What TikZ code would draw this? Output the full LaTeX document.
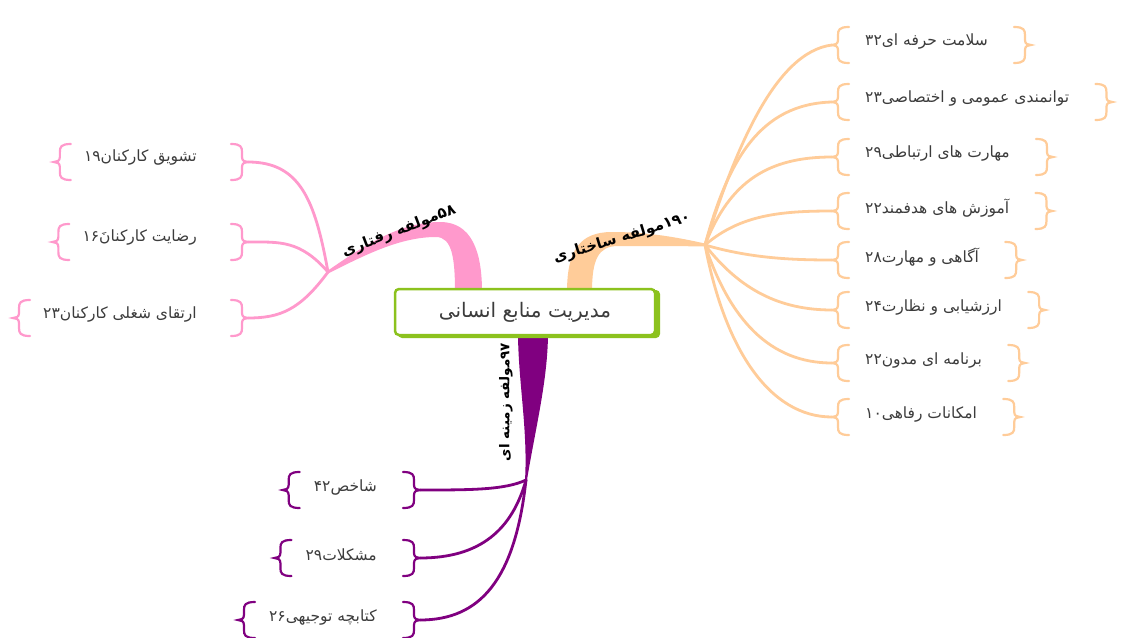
\documentclass[tikz,border=0pt]{standalone}
\usepackage{fontspec}
\usetikzlibrary{calc}
\newfontfamily\fa[Script=Arabic]{DejaVu Sans}
\TeXXeTstate=1
\definecolor{pinkc}{RGB}{255,153,204}
\definecolor{orangec}{RGB}{255,204,153}
\definecolor{purplec}{RGB}{128,0,128}
\definecolor{greenc}{RGB}{140,194,30}
\definecolor{textc}{RGB}{60,60,60}
\newcommand{\ltr}[1]{\beginL #1\endL}
\tikzset{
  leaf/.style={font=\fa\fontsize{15.5}{17}\selectfont, text=textc, inner sep=0pt},
  branchlabel/.style={font=\fa\fontsize{15}{17}\selectfont\bfseries, text=black, inner sep=0pt},
  central/.style={draw=greenc, line width=2.5pt, rounded corners=4pt, fill=white,
    minimum width=260pt, minimum height=46pt, font=\fa\fontsize{20}{22}\selectfont, text=textc},
  twig/.style={line width=2.8pt, line cap=round},
  brace/.style={line width=2.2pt, line cap=round},
  lbr/.pic={\draw[brace] (17,-18) .. controls (7,-18) and (6,-15) .. (6,-10) -- (6,-5) .. controls (6,-1) and (3,0) .. (0,0) .. controls (3,0) and (6,1) .. (6,5) -- (6,10) .. controls (6,15) and (7,18) .. (17,18);},
  rbr/.pic={\draw[brace] (-17,-18) .. controls (-7,-18) and (-6,-15) .. (-6,-10) -- (-6,-5) .. controls (-6,-1) and (-3,0) .. (0,0) .. controls (-3,0) and (-6,1) .. (-6,5) -- (-6,10) .. controls (-6,15) and (-7,18) .. (-17,18);}
}
% orange leaf: name, y, text
\newcommand{\oleaf}[3]{%
  \coordinate (#1l) at (832,#2);
  \node[leaf, anchor=west] (#1) at (865,#2-3) {#3};
  \coordinate (#1r) at ($(#1.east)+(43,3)$);
  \pic[color=orangec] at (#1l) {lbr};
  \pic[color=orangec] at (#1r) {rbr};
}
% pink leaf
\newcommand{\pleaf}[3]{%
  \coordinate (#1r) at (248,#2);
  \node[leaf, anchor=east] (#1) at (197,#2-4) {#3};
  \coordinate (#1l) at ($(#1.west)+(-30,4)$);
  \pic[color=pinkc] at (#1l) {lbr};
  \pic[color=pinkc] at (#1r) {rbr};
}
% purple leaf
\newcommand{\vleaf}[3]{%
  \coordinate (#1r) at (420,#2);
  \node[leaf, anchor=east] (#1) at (377,#2-3) {#3};
  \coordinate (#1l) at ($(#1.west)+(-31,3)$);
  \pic[color=purplec] at (#1l) {lbr};
  \pic[color=purplec] at (#1r) {rbr};
}
\begin{document}
\begin{tikzpicture}[x=1pt,y=-1pt]
\useasboundingbox (0,0) rectangle (1126,637);
\fill[white] (0,0) rectangle (1126,637);

% hubs
\coordinate (phub) at (328,272);
\coordinate (ohub) at (705,245);
\coordinate (vhub) at (526,480);

% trunks
\fill[pinkc] (455,292) .. controls (455,258) and (452,237) .. (436,237) .. controls (400,237) and (365,255) .. (328,273.5) -- (328,270.5) .. controls (365,245) and (400,222) .. (440,222) .. controls (472,222) and (482,252) .. (482,292) -- cycle;
\fill[orangec] (567,292) .. controls (567,250) and (580,232) .. (612,232) .. controls (650,232) and (680,238) .. (705,243.5) -- (705,246.5) .. controls (680,246) and (650,246) .. (618,246) .. controls (598,246) and (592,260) .. (592,292) -- cycle;
\fill[purplec] (518,332) .. controls (518,380) and (528,430) .. (525,480) -- (527,480) .. controls (535,430) and (548,380) .. (548,332) -- cycle;

% central node
\fill[greenc, rounded corners=4pt] (398,290) rectangle (660,338);
\node[central] (root) at (525,312) {\beginR مدیریت منابع انسانی\endR};

% branch labels
\node[branchlabel, rotate=21] (plab) at (399,231) {\beginR\ltr{۵۸}مولفه رفتاری\endR};
\node[branchlabel, rotate=17] (olab) at (622,238) {\beginR\ltr{۱۹۰}مولفه ساختاری\endR};
\node[branchlabel, rotate=90, font=\fa\fontsize{13.5}{15}\selectfont\bfseries] (vlab) at (506,402) {\beginR\ltr{۹۷}مولفه زمینه ای\endR};

% orange leaves
\oleaf{o1}{45}{\beginR سلامت حرفه ای\ltr{۳۲}\endR}
\oleaf{o2}{102}{\beginR توانمندی عمومی و اختصاصی\ltr{۲۳}\endR}
\oleaf{o3}{157}{\beginR مهارت های ارتباطی\ltr{۲۹}\endR}
\oleaf{o4}{211}{\beginR آموزش های هدفمند\ltr{۲۲}\endR}
\oleaf{o5}{260}{\beginR آگاهی و مهارت\ltr{۲۸}\endR}
\oleaf{o6}{310}{\beginR ارزشیابی و نظارت\ltr{۲۴}\endR}
\oleaf{o7}{363}{\beginR برنامه ای مدون\ltr{۲۲}\endR}
\oleaf{o8}{417}{\beginR امکانات رفاهی\ltr{۱۰}\endR}

\begin{scope}[twig, orangec]
\draw (ohub) .. controls (735,150) and (775,52) .. (o1l);
\draw (ohub) .. controls (728,160) and (760,104) .. (o2l);
\draw (ohub) .. controls (730,180) and (770,157) .. (o3l);
\draw (ohub) .. controls (740,215) and (780,211) .. (o4l);
\draw (ohub) .. controls (750,258) and (790,260) .. (o5l);
\draw (ohub) .. controls (740,290) and (780,310) .. (o6l);
\draw (ohub) .. controls (730,320) and (770,363) .. (o7l);
\draw (ohub) .. controls (725,350) and (770,417) .. (o8l);
\end{scope}

% pink leaves
\pleaf{p1}{162}{\beginR تشویق کارکنان\ltr{۱۹}\endR}
\pleaf{p2}{242}{\beginR رضایت کارکنانَ\ltr{۱۶}\endR}
\pleaf{p3}{318}{\beginR ارتقای شغلی کارکنان\ltr{۲۳}\endR}

\begin{scope}[twig, pinkc]
\draw (phub) .. controls (315,200) and (300,162) .. (p1r);
\draw (phub) .. controls (300,240) and (280,242) .. (p2r);
\draw (phub) .. controls (300,310) and (280,318) .. (p3r);
\end{scope}

% purple leaves
\vleaf{v1}{490}{\beginR شاخص\ltr{۴۲}\endR}
\vleaf{v2}{558}{\beginR مشکلات\ltr{۲۹}\endR}
\vleaf{v3}{620}{\beginR کتابچه توجیهی\ltr{۲۶}\endR}

\begin{scope}[twig, purplec]
\draw (vhub) .. controls (505,490) and (470,490) .. (v1r);
\draw (vhub) .. controls (512,530) and (480,558) .. (v2r);
\draw (vhub) .. controls (515,580) and (480,620) .. (v3r);
\end{scope}
\end{tikzpicture}
\end{document}
